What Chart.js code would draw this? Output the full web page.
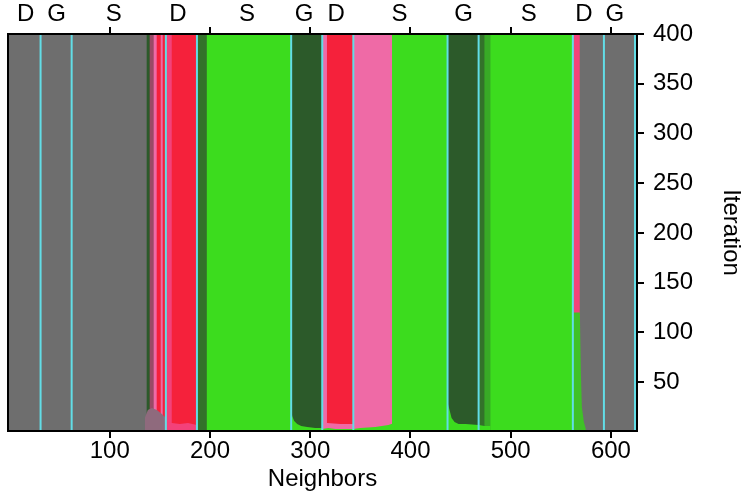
<!DOCTYPE html>
<html>
<head>
<meta charset="utf-8">
<title>Neighbors / Iteration</title>
<script src="https://cdn.jsdelivr.net/npm/chart.js@4.4.1/dist/chart.umd.min.js"></script>
<style>
  html, body { margin: 0; padding: 0; background: #fff; }
  canvas { display: block; }
</style>
</head>
<body>
<canvas id="stateChart" width="744" height="501"></canvas>
<script>
// group boundaries along the neighbor axis (cyan lines) and top labels
const bounds = [0, 31, 62, 156, 187, 281, 312, 343, 437, 468, 562, 593, 624];
const groupLabels = ['D', 'G', 'S', 'D', 'S', 'G', 'D', 'S', 'G', 'S', 'D', 'G'];
const labelPos = [16, 47, 104, 168, 237, 294, 326, 389, 453, 518, 573, 604];
const xTicks = [100, 200, 300, 400, 500, 600];
const yTicks = [50, 100, 150, 200, 250, 300, 350, 400];

// state of each neighbor column over (almost) all iterations
const colStart = [-2, 137, 140, 144, 147, 151, 153, 156, 162, 187, 197, 281, 312, 317, 343, 382, 437, 468, 474, 480, 562, 569];
const colEnd   = [137, 140, 144, 147, 151, 153, 156, 162, 187, 197, 281, 312, 317, 343, 382, 437, 468, 474, 480, 562, 569, 627];
const colState = ['grey', 'dkgreen', 'mauve', 'pink', 'red', 'pink', 'red', 'pinkred', 'red', 'speckDark',
                  'green', 'dkgreen', 'pink', 'red', 'pink', 'green', 'dkgreen', 'speckDark', 'speckLight',
                  'green', 'pinkred', 'grey'];

// early-iteration patches: x points, upper edge in iterations, state
const patchX = [
  [135, 138, 142, 147, 152, 156],
  [156, 162, 170, 178, 187],
  [281, 282, 284, 287, 291, 297, 305, 312],
  [312, 317, 330, 343],
  [312, 318, 325, 335, 343],
  [343, 350, 365, 378, 384],
  [437, 439, 441, 444, 448, 455, 468],
  [468, 474, 480],
  [562, 569, 570, 571, 573, 575]
];
const patchTop = [
  [14, 22, 24, 22, 18, 14],
  [10, 9, 8, 9, 7],
  [24, 16, 11, 8, 6, 5, 4, 4],
  [9, 9, 8, 8],
  [3, 4, 3, 3, 3],
  [3, 4, 5, 7, 9],
  [30, 22, 14, 10, 8, 8, 7],
  [7, 6, 6],
  [120, 120, 60, 25, 10, 3]
];
const patchState = ['greypink', 'pinkred', 'green', 'pink', 'green', 'green', 'green', 'green', 'speckGreen'];

const colours = {
  grey: '#6e6e6e',
  red: '#f5213b',
  pink: '#ef6aa6',
  pinkred: '#f3417a',
  green: '#3cdc1e',
  dkgreen: '#2c5a2a',
  mauve: '#9a4a66',
  speckDark: '#33722a',
  speckLight: '#38aa26',
  speckGreen: '#3fc226',
  greypink: '#8f6a7d'
};
const lineColour = '#62dde6';
const fontFamily = '"Liberation Sans", Arial, Helvetica, sans-serif';

const datasets = [];
function addArea(points, colour) {
  datasets.push({
    data: points,
    showLine: true,
    fill: { value: 1 },
    backgroundColor: colour,
    borderColor: 'rgba(0,0,0,0)',
    borderWidth: 0,
    pointRadius: 0,
    tension: 0
  });
}

// columns run the full height, slightly overlapped to hide seams
colStart.forEach((x0, i) => {
  addArea([{ x: x0 - 0.4, y: 400 }, { x: colEnd[i] + 0.4, y: 400 }], colours[colState[i]]);
});
patchX.forEach((xs, i) => {
  addArea(xs.map((x, j) => ({ x: x, y: patchTop[i][j] })), colours[patchState[i]]);
});
bounds.slice(1).forEach(b => {
  datasets.push({
    data: [{ x: b, y: 1 }, { x: b, y: 400 }],
    showLine: true,
    fill: false,
    borderColor: lineColour,
    borderWidth: 2,
    pointRadius: 0
  });
});
// first dataset in the list is painted first
datasets.forEach((d, i) => { d.order = datasets.length - i; });

const framePlugin = {
  id: 'frame',
  afterDatasetsDraw(chart) {
    const { ctx, chartArea: a } = chart;
    const x = chart.scales.x;
    ctx.save();
    ctx.strokeStyle = '#000';
    ctx.lineWidth = 2;
    ctx.strokeRect(a.left, a.top, a.right - a.left, a.bottom - a.top);
    ctx.beginPath();
    xTicks.forEach(v => {
      const px = Math.round(x.getPixelForValue(v));
      ctx.moveTo(px, a.top);
      ctx.lineTo(px, a.top - 7);
    });
    ctx.stroke();
    ctx.restore();
  }
};

const tickFont = { family: fontFamily, size: 24, lineHeight: 1 };

new Chart(document.getElementById('stateChart'), {
  type: 'scatter',
  data: { datasets: datasets },
  plugins: [framePlugin],
  options: {
    responsive: false,
    animation: false,
    events: [],
    layout: { padding: { left: 8, right: 1, top: 4, bottom: 10 } },
    plugins: { legend: { display: false }, tooltip: { enabled: false } },
    scales: {
      x: {
        type: 'linear',
        position: 'bottom',
        min: -1.5,
        max: 626,
        afterBuildTicks: s => { s.ticks = xTicks.map(v => ({ value: v })); },
        afterFit: s => { s.height = 60; },
        ticks: { font: tickFont, color: '#000', padding: 1, autoSkip: false, maxRotation: 0 },
        grid: { drawOnChartArea: false, tickLength: 7, color: '#000', lineWidth: 2 },
        border: { display: false },
        title: { display: true, text: 'Neighbors', color: '#000', font: tickFont, padding: 0 }
      },
      x2: {
        type: 'linear',
        position: 'top',
        min: -1.5,
        max: 626,
        afterBuildTicks: s => { s.ticks = labelPos.map(v => ({ value: v })); },
        afterFit: s => { s.height = 30; },
        ticks: {
          font: tickFont,
          color: '#000',
          padding: 0,
          autoSkip: false,
          maxRotation: 0,
          callback: (v, i) => groupLabels[i]
        },
        grid: { display: false },
        border: { display: false }
      },
      y: {
        type: 'linear',
        position: 'right',
        min: 1,
        max: 400,
        afterBuildTicks: s => { s.ticks = yTicks.map(v => ({ value: v })); },
        afterFit: s => { s.width = 106; },
        ticks: { font: tickFont, color: '#000', padding: 9 },
        grid: { drawOnChartArea: false, tickLength: 7, color: '#000', lineWidth: 2 },
        border: { display: false },
        title: { display: true, text: 'Iteration', color: '#000', font: tickFont, padding: 0 }
      }
    }
  }
});
</script>
</body>
</html>
